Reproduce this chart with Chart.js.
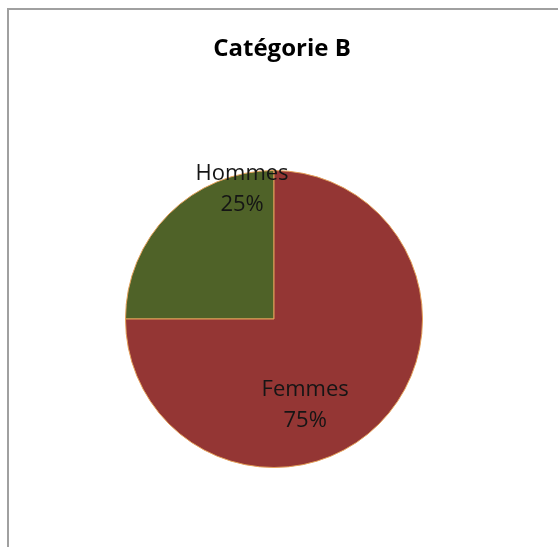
<!DOCTYPE html>
<html><head><meta charset="utf-8">
<script src="https://cdn.jsdelivr.net/npm/chart.js@4"></script>
<style>
html,body{margin:0;padding:0;background:#fff;}
#wrap{position:relative;width:558px;height:547px;overflow:hidden;}
#frame{position:absolute;left:7px;top:8px;width:600px;height:600px;border-left:2px solid #a0a0a0;border-top:2px solid #a0a0a0;box-sizing:border-box;}
canvas{position:absolute;left:0;top:0;}
</style></head>
<body><div id="wrap"><div id="frame"></div><canvas id="c" width="558" height="547"></canvas></div>
<script>
const title = "Catégorie B";
const categories = ["Hommes", "Femmes"];
const values = [25, 75];
const colors = ["#4F6228", "#943634"];

// label anchor offsets relative to pie centre, in units of radius (style only)
const labelOffsets = [[-0.215, -0.88], [0.21, 0.58]];

const labelPlugin = {
  id: 'labelPlugin',
  afterDraw(chart) {
    const ctx = chart.ctx;
    ctx.save();
    ctx.fillStyle = '#000';
    ctx.textAlign = 'center';
    ctx.textBaseline = 'middle';
    ctx.font = 'bold 24px "Open Sans", sans-serif';
    ctx.fillText(title, 282, 49);
    const meta = chart.getDatasetMeta(0);
    const total = values.reduce((a, b) => a + b, 0);
    ctx.font = '22px "Open Sans", sans-serif';
    meta.data.forEach((arc, i) => {
      const r = arc.outerRadius;
      const x = arc.x + labelOffsets[i][0] * r;
      const y = arc.y + labelOffsets[i][1] * r;
      ctx.fillStyle = '#151515';
      ctx.fillText(categories[i], x, y - 15);
      ctx.fillText(Math.round(values[i] / total * 100) + '%', x, y + 16);
    });
    ctx.restore();
  }
};

new Chart(document.getElementById('c'), {
  type: 'pie',
  data: {
    labels: categories,
    datasets: [{
      data: values,
      backgroundColor: colors,
      borderColor: '#E3A05A',
      borderWidth: 1
    }]
  },
  options: {
    responsive: false,
    animation: false,
    rotation: -90,
    layout: { padding: { left: 125, right: 135, top: 170, bottom: 79 } },
    plugins: { legend: { display: false }, tooltip: { enabled: false }, title: { display: false } }
  },
  plugins: [labelPlugin]
});
</script></body></html>
